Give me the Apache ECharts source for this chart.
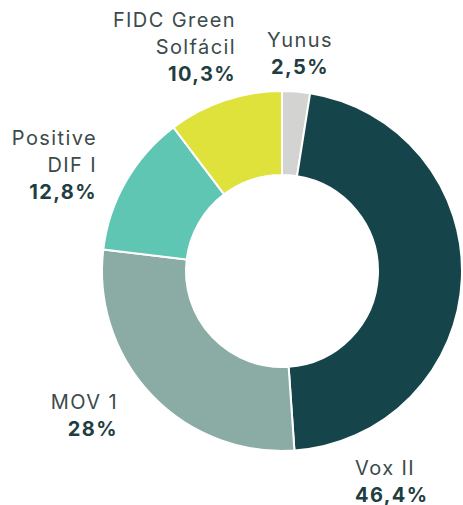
<!DOCTYPE html>
<html>
<head>
<meta charset="utf-8">
<script src="https://cdn.jsdelivr.net/npm/echarts@6/dist/echarts.min.js"></script>
<style>
html,body{margin:0;padding:0;background:#fff;}
#chart{width:463px;height:505px;}
#chart text{letter-spacing:1.4px;}
</style>
</head>
<body>
<div id="chart"></div>
<script>
const categories = ['Yunus', 'Vox II', 'MOV 1', 'Positive DIF I', 'FIDC Green Solfácil'];
const labelNames = ['Yunus', 'Vox II', 'MOV 1', 'Positive\nDIF I', 'FIDC Green\nSolfácil'];
const values = [2.5, 46.4, 28, 12.8, 10.3];
const colors = ['#d3d3d1', '#15454a', '#8aaca4', '#5fc6b3', '#e0e23c'];

// label anchor placement (layout only)
const labelSpots = [
  {x: 300, y: 53, align: 'center'},
  {x: 355, y: 481, align: 'left'},
  {x: 118, y: 415, align: 'right'},
  {x: 97, y: 165, align: 'right'},
  {x: 236, y: 47, align: 'right'}
];

const fmt = v => String(v).replace('.', ',') + '%';

const chart = echarts.init(document.getElementById('chart'), null, {renderer: 'svg'});
chart.setOption({
  animation: false,
  backgroundColor: '#ffffff',
  series: [{
    type: 'pie',
    center: [282, 271],
    radius: [96, 180],
    startAngle: 90,
    clockwise: true,
    silent: true,
    avoidLabelOverlap: false,
    itemStyle: {borderColor: '#ffffff', borderWidth: 2},
    labelLine: {show: false},
    label: {
      show: true,
      position: 'outside',
      overflow: 'none',
      formatter: p => {
        const nm = labelNames[p.dataIndex].split('\n').map(s => '{n|' + s + '}').join('\n');
        return nm + '\n{v|' + fmt(values[p.dataIndex]) + '}';
      },
      rich: {
        n: {fontFamily: 'Inter', fontSize: 20, color: '#3b4b4c', lineHeight: 27},
        v: {fontFamily: 'Inter', fontSize: 20, fontWeight: 'bold', color: '#1f3e41', lineHeight: 27}
      }
    },
    labelLayout: params => {
      const s = labelSpots[params.dataIndex];
      return {x: s.x, y: s.y, align: s.align, verticalAlign: 'middle', hideOverlap: false};
    },
    data: categories.map((c, i) => ({
      name: c,
      value: values[i],
      itemStyle: {color: colors[i]},
      label: {align: labelSpots[i].align}
    }))
  }]
});
</script>
</body>
</html>
